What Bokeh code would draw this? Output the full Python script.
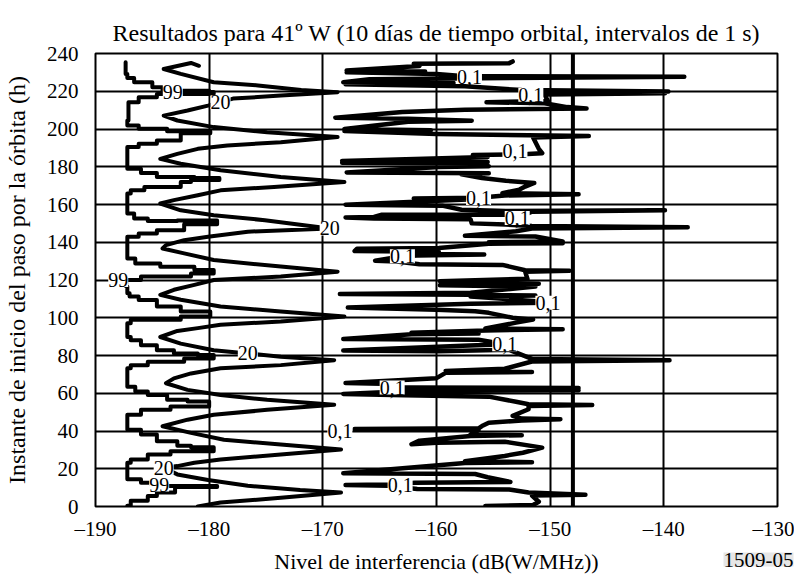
from bokeh.plotting import figure
from bokeh.models import FixedTicker, Span, Label, Title
from bokeh.embed import file_html
from bokeh.resources import INLINE

# ---------------- data ----------------
x_ticks = [-190, -180, -170, -160, -150, -140, -130]
x_tick_labels = ["\u2013190", "\u2013180", "\u2013170", "\u2013160", "\u2013150", "\u2013140", "\u2013130"]
y_ticks = list(range(0, 241, 20))
threshold_db = -148.0

# 99 % curve (x = level dB(W/MHz), h = start time)
x99 = [-187.35, -187.2, -186.6, -185.0, -184.1, -183.2, -180.0, -179.6, -184.6, -186.2, -187.1,
       -187.2, -186.2, -183.7, -179.9, -182.5, -182.5, -184.6, -186.2, -187.2, -187.2, -186.0,
       -184.6, -181.3, -179.1, -181.6, -182.5, -185.7, -186.9, -187.2, -187.2, -186.6, -185.4,
       -182.8, -179.3, -182.2, -184.6, -186.2, -187.2, -187.2, -186.5, -184.3, -181.3, -179.6,
       -181.6, -186.0, -187.3, -187.2, -187.0, -186.2, -184.6, -182.5, -179.9, -182.5, -186.9,
       -187.2, -187.2, -186.9, -186.0, -184.6, -183.1, -181.0, -179.6, -182.2, -185.4, -186.9,
       -187.2, -187.2, -186.5, -185.4, -183.7, -181.9, -180.0, -183.4, -186.0, -187.2, -187.2,
       -186.0, -184.6, -182.8, -181.6, -179.6, -183.4, -185.4, -186.9, -187.2, -187.2, -186.0,
       -185.1, -184.4, -179.3, -183.0, -184.6, -185.4, -186.9, -187.2]
h99 = [235.3, 229.2, 227.0, 224.8, 222.1, 219.8, 220.2, 219.6, 218.6, 216.8, 214.2,
       204.5, 201.9, 200.1, 198.8, 197.8, 195.7, 193.9, 192.2, 190.4, 181.6, 179.0,
       176.7, 174.6, 174.0, 173.0, 171.9, 169.3, 167.5, 165.8, 155.8, 155.2, 152.6,
       151.2, 151.5, 149.5, 146.4, 144.6, 142.9, 134.1, 131.4, 128.8, 127.0, 125.3,
       123.5, 121.8, 120.0, 116.5, 113.0, 111.2, 109.4, 105.9, 103.3, 100.6, 98.9,
       97.1, 93.3, 89.8, 88.1, 85.4, 82.8, 81.1, 80.2, 78.4, 76.7, 74.9,
       73.2, 65.3, 63.5, 60.9, 59.1, 56.5, 55.6, 53.0, 51.2, 48.6, 44.2,
       40.7, 38.1, 34.6, 32.2, 31.4, 29.3, 27.5, 24.9, 23.2, 16.1, 14.4,
       12.6, 11.6, 10.9, 10.3, 7.4, 5.6, 3.0, 0.4]

# 20 % curve
x20 = [-180.9, -181.6, -184.0, -182.5, -179.6, -175.7, -171.9, -168.7, -173.7, -177.9, -179.0,
       -180.1, -181.9, -184.0, -182.8, -179.6, -174.9, -168.7, -173.7, -178.4, -181.0, -182.8,
       -184.3, -182.5, -179.0, -173.7, -168.1, -174.3, -179.0, -181.0, -183.1, -184.3, -182.5,
       -179.6, -175.1, -169.4, -176.6, -180.1, -182.2, -183.8, -184.1, -182.2, -179.6, -173.7,
       -168.7, -173.7, -179.6, -181.3, -183.1, -184.3, -182.5, -179.0, -173.7, -168.1, -173.7,
       -179.0, -181.0, -182.8, -184.3, -182.5, -179.6, -176.6, -173.7, -169.0, -173.7, -179.0,
       -181.6, -183.1, -183.8, -181.9, -179.0, -174.9, -169.0, -174.9, -179.6, -181.9, -184.1,
       -181.6, -178.7, -173.7, -168.4, -173.7, -179.0, -181.3, -182.8, -184.0, -182.8, -180.1,
       -176.6, -172.0, -168.4, -173.7, -179.0, -181.0]
h20 = [233.5, 235.0, 231.8, 229.2, 224.8, 223.1, 220.7, 219.5, 217.7, 216.1, 214.2,
       212.4, 209.8, 207.1, 204.5, 201.0, 198.3, 195.7, 193.0, 191.3, 189.5, 186.8,
       184.2, 181.6, 178.1, 174.6, 171.9, 169.3, 167.5, 164.9, 162.3, 160.5, 156.9,
       154.3, 151.7, 147.3, 145.6, 142.9, 141.1, 138.5, 136.7, 134.1, 130.6, 127.1,
       124.4, 121.8, 120.0, 117.4, 114.8, 112.1, 109.5, 106.0, 103.3, 100.7, 98.0,
       96.3, 94.5, 93.0, 89.8, 86.3, 82.8, 81.1, 79.3, 77.5, 74.9, 73.2,
       70.5, 67.9, 65.3, 61.8, 59.1, 56.5, 53.9, 51.2, 48.6, 46.0, 42.5,
       39.0, 35.4, 32.8, 30.2, 27.5, 24.9, 23.2, 21.4, 20.5, 17.0, 14.0,
       11.0, 8.7, 7.4, 4.6, 2.1, 0.0]

# 0,1 % curve
x01 = [-153.3, -153.6, -162.0, -161.5, -167.9, -161.0, -167.9, -160.0, -157.5, -138.2, -156.0,
       -165.9, -168.2, -158.5, -168.0, -157.5, -152.5, -139.6, -150.5, -139.9, -150.5, -150.2,
       -155.6, -150.5, -148.5, -146.8, -157.5, -163.0, -168.9, -162.5, -156.9, -162.5, -168.1,
       -160.5, -168.1, -160.0, -146.6, -151.5, -151.0, -150.7, -152.0, -156.8, -155.5, -168.3,
       -155.5, -168.3, -156.8, -155.4, -159.8, -167.9, -155.4, -157.8, -156.0, -153.9, -151.4,
       -152.2, -152.7, -154.2, -147.5, -154.0, -156.3, -162.0, -157.3, -168.0, -159.5, -157.8,
       -153.9, -139.9, -151.6, -152.9, -153.9, -164.8, -165.5, -168.0, -165.5, -157.0, -156.9,
       -153.9, -151.6, -137.9, -151.6, -153.0, -157.5, -151.3, -148.9, -155.4, -148.9, -155.4,
       -159.8, -167.0, -167.2, -159.8, -161.7, -155.8, -161.7, -163.0, -165.4, -163.5, -161.5,
       -154.2, -152.2, -148.3, -152.2, -152.0, -159.7, -151.0, -159.7, -151.3, -157.0, -168.5,
       -157.0, -151.3, -157.0, -151.2, -150.2, -157.0, -167.8, -160.0, -156.6, -155.4, -153.3,
       -151.5, -153.0, -155.7, -148.9, -155.7, -162.2, -156.3, -162.2, -168.2, -156.3, -154.0,
       -157.7, -168.2, -159.8, -153.6, -151.6, -139.5, -151.6, -154.0, -159.2, -151.6, -159.2,
       -160.0, -168.0, -164.8, -163.9, -162.5, -147.5, -162.5, -147.5, -162.8, -168.2, -162.8,
       -155.4, -153.0, -151.9, -146.3, -151.9, -151.9, -153.3, -152.5, -149.1, -152.5, -155.4,
       -156.0, -156.3, -167.2, -156.3, -157.0, -152.5, -157.0, -161.5, -162.2, -160.0, -154.0,
       -150.7, -152.4, -154.0, -157.5, -151.6, -157.5, -168.2, -156.6, -155.5, -153.5, -161.9,
       -164.2, -168.0, -164.2, -161.7, -153.6, -151.9, -146.9, -151.6, -151.0, -151.5, -155.7]
h01 = [235.8, 234.9, 234.6, 233.4, 231.0, 230.5, 230.0, 229.2, 228.0, 227.7, 226.9,
       226.3, 224.8, 224.4, 223.7, 222.6, 220.6, 219.9, 219.3, 218.9, 218.3, 214.8,
       214.2, 213.6, 211.6, 210.8, 210.2, 209.0, 206.0, 205.4, 204.4, 203.8, 200.0,
       199.4, 198.9, 197.3, 196.3, 195.5, 189.5, 187.2, 186.7, 186.2, 185.2, 183.1,
       182.5, 182.1, 181.6, 180.3, 179.9, 177.0, 176.6, 176.0, 174.0, 172.6, 171.4,
       169.5, 167.9, 166.0, 165.4, 164.8, 163.6, 163.2, 162.6, 159.9, 159.4, 157.2,
       156.6, 156.9, 156.2, 152.9, 154.7, 154.6, 153.4, 153.1, 152.6, 152.2, 150.0,
       149.4, 148.6, 147.9, 147.3, 145.8, 143.4, 143.0, 140.4, 140.0, 139.5, 139.2,
       137.0, 136.6, 135.3, 135.0, 133.8, 133.5, 133.0, 132.6, 130.2, 129.8, 128.3,
       128.0, 125.2, 124.9, 124.4, 120.6, 119.4, 118.0, 117.2, 116.5, 113.2, 112.6,
       112.2, 111.8, 111.2, 108.8, 108.0, 107.4, 105.4, 104.2, 103.5, 102.6, 100.0,
       99.0, 97.4, 94.3, 93.9, 93.3, 92.1, 91.6, 91.2, 88.7, 88.3, 86.0,
       85.2, 82.6, 82.2, 83.0, 78.2, 77.5, 76.8, 73.0, 71.8, 71.3, 70.8,
       68.0, 65.4, 65.0, 63.1, 63.0, 62.8, 62.1, 61.6, 61.1, 59.6, 59.0,
       58.2, 55.5, 54.2, 53.8, 53.2, 51.5, 48.0, 46.6, 46.2, 45.6, 44.4,
       42.6, 41.4, 41.0, 40.6, 38.2, 37.8, 37.3, 34.9, 33.0, 33.8, 34.3,
       31.2, 28.5, 26.8, 24.0, 23.5, 23.0, 17.6, 17.2, 15.5, 13.0, 12.6,
       11.6, 11.4, 11.0, 9.3, 9.0, 7.4, 6.2, 5.8, 2.5, 0.8, 0.3]

# curve labels
label_texts = ["99", "20", "20", "99", "20", "0,1", "20", "99",
               "0,1", "0,1", "0,1", "0,1", "0,1", "0,1", "0,1", "0,1", "0,1", "0,1"]
label_x = [-183.2, -179.0, -169.4, -188.0, -176.6, -168.5, -184.0, -184.4,
           -157.1, -151.7, -153.1, -156.3, -152.9, -163.0, -150.2, -154.0, -163.9, -163.2]
label_h = [219.8, 214.2, 147.3, 120.0, 81.1, 39.8, 20.5, 11.6,
           227.8, 218.2, 188.2, 163.5, 152.9, 132.6, 108.0, 85.9, 63.0, 11.4]

title_text = "Resultados para 41º W (10 días de tiempo orbital, intervalos de 1 s)"
x_label = "Nivel de interferencia (dB(W/MHz))"
y_label = "Instante de inicio del paso por la órbita (h)"
fig_code = "1509-05"

FONT = "Liberation Serif"


def stepped(xs, hs):
    # staircase rendering of the 99 % trace (level held until the next time sample)
    sx, sh = [xs[0]], [hs[0]]
    for i in range(1, len(xs)):
        sx.append(xs[i - 1]); sh.append(hs[i])
        sx.append(xs[i]); sh.append(hs[i])
    return sx, sh


# ---------------- figure ----------------
p = figure(frame_width=682, frame_height=453, x_range=(-190, -130), y_range=(0, 240),
           output_backend="svg", toolbar_location=None,
           min_border_left=90, min_border_right=17, min_border_top=53, min_border_bottom=66)
p.title = Title(text=title_text, align="center", text_font=FONT, text_font_size="24px",
                text_font_style="normal", text_color="black", standoff=16)
p.background_fill_color = "white"
p.border_fill_color = "white"
p.outline_line_color = "black"
p.outline_line_width = 2

p.xaxis.ticker = FixedTicker(ticks=x_ticks)
p.xaxis.major_label_overrides = {t: s for t, s in zip(x_ticks, x_tick_labels)}
p.yaxis.ticker = FixedTicker(ticks=y_ticks)
for ax in (p.xaxis[0], p.yaxis[0]):
    ax.axis_line_color = None
    ax.major_tick_line_color = None
    ax.minor_tick_line_color = None
    ax.major_tick_out = 0
    ax.major_tick_in = 0
    ax.major_label_text_font = FONT
    ax.major_label_text_font_size = "21px"
    ax.major_label_text_color = "black"
    ax.axis_label_text_font = FONT
    ax.axis_label_text_font_style = "normal"
    ax.axis_label_text_color = "black"
p.xaxis.axis_label_text_font_size = "22px"
p.yaxis.axis_label_text_font_size = "24px"
p.xaxis.axis_label = x_label
p.yaxis.axis_label = y_label
p.xaxis.major_label_standoff = 10
p.yaxis.major_label_standoff = 17
p.xaxis.axis_label_standoff = 5
p.yaxis.axis_label_standoff = 14

p.xgrid.grid_line_color = "black"
p.xgrid.grid_line_width = 2
p.xgrid.grid_line_alpha = 1
p.ygrid.grid_line_color = "black"
p.ygrid.grid_line_width = 2
p.ygrid.grid_line_alpha = 1

p.add_layout(Span(location=threshold_db, dimension="height", line_color="black", line_width=4))

sx99, sh99 = stepped(x99, h99)
p.line(sx99, sh99, line_color="black", line_width=4, line_join="round", line_cap="round")
p.line(x20, h20, line_color="black", line_width=4, line_join="round", line_cap="round")
p.line(x01, h01, line_color="black", line_width=4.5, line_join="round", line_cap="round")

for t, lx, lh in zip(label_texts, label_x, label_h):
    p.add_layout(Label(x=lx, y=lh, text=t, text_font=FONT, text_font_size="20px",
                       text_align="center", text_baseline="middle", text_color="black",
                       background_fill_color="white"))

# figure reference code: a bottom title pulled up onto the axis-label line, right aligned
p.add_layout(Title(text=fig_code, align="right", vertical_align="top", offset=-16,
                   standoff=-48, text_font=FONT, text_font_size="21px",
                   text_font_style="normal", text_color="black",
                   background_fill_color="#e6e6e6"), "below")

open("out.html", "w").write(file_html(p, INLINE))
